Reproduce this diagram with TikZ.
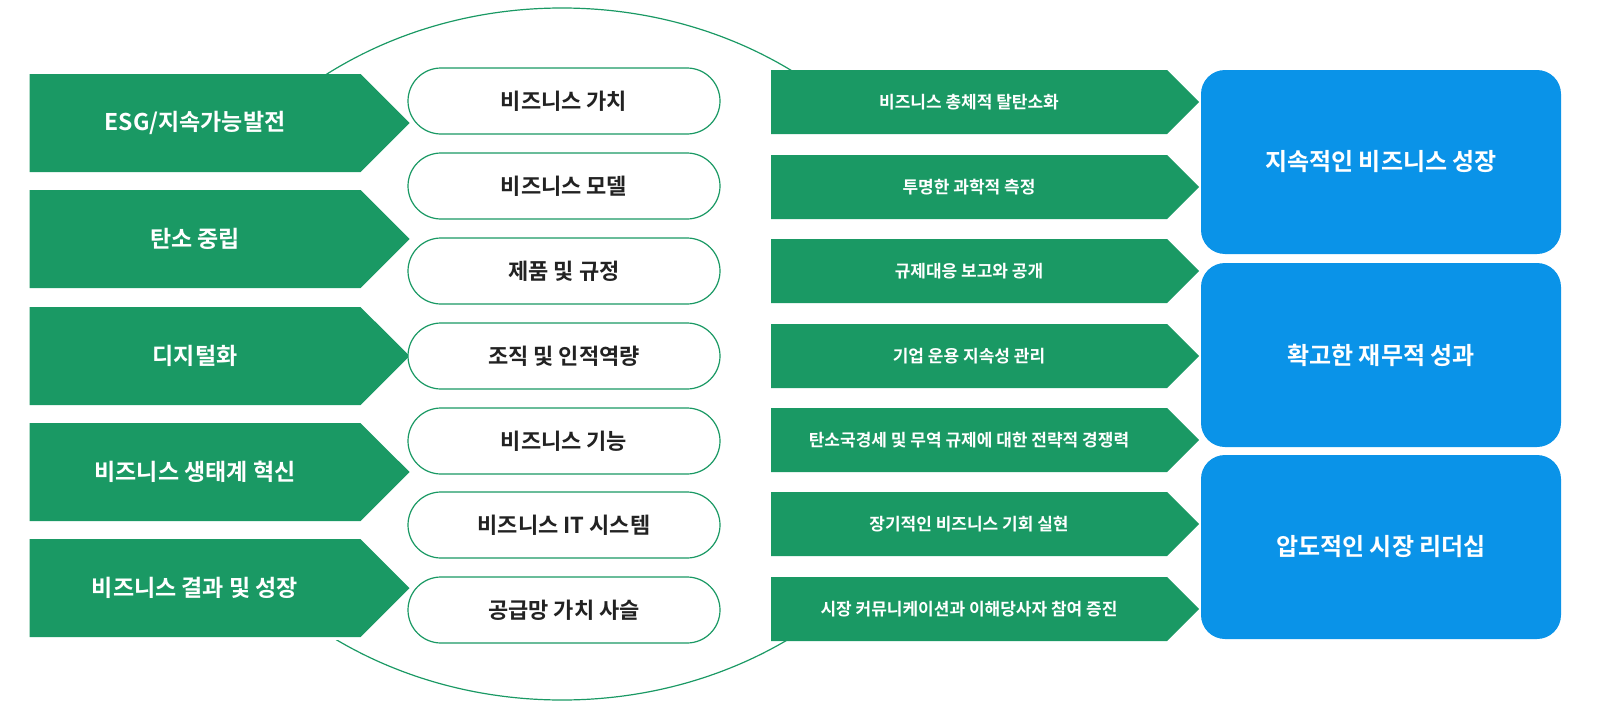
\documentclass[tikz,border=0pt]{standalone}
\usepackage{fontspec}
\setmainfont{Noto Sans CJK KR}[BoldFont={Noto Sans CJK KR Bold}]
\usetikzlibrary{shapes.symbols}
\definecolor{esggreen}{HTML}{1A9964}
\definecolor{esgblue}{HTML}{0A93E8}
\definecolor{pilltext}{HTML}{222222}
\tikzset{
leftarrow/.style={signal, signal to=east, signal pointer angle=90, fill=esggreen, text=white,
  minimum width=190pt, minimum height=49pt, inner sep=0pt, font=\bfseries\fontsize{11.5}{13}\selectfont},
rightarrow/.style={signal, signal to=east, signal pointer angle=90, fill=esggreen, text=white,
  minimum width=214pt, minimum height=32pt, inner sep=0pt, font=\bfseries\fontsize{8.5}{10}\selectfont},
pill/.style={draw=esggreen, fill=white, line width=0.6pt, rounded corners=16.5pt, text=pilltext,
  minimum width=156pt, minimum height=33pt, font=\bfseries\fontsize{11}{13}\selectfont},
goal/.style={fill=esgblue, text=white, rounded corners=12pt, minimum width=180pt,
  minimum height=92pt, font=\bfseries\fontsize{12}{14}\selectfont}
}
\begin{document}
\begin{tikzpicture}[x=0.5pt,y=-0.5pt]
% outline arcs above and below the middle column
\begin{scope}
\clip (0,0) rectangle (1613,75) (0,640) rectangle (1613,728);
\draw[esggreen, line width=0.6pt] (562,354) ellipse [x radius=400, y radius=346];
\end{scope}
% left column
\node[leftarrow] (l1) at (195,123) {ESG/지속가능발전};
\node[leftarrow] (l2) at (195,239) {탄소 중립};
\node[leftarrow] (l3) at (195,356) {디지털화};
\node[leftarrow] (l4) at (195,472) {비즈니스 생태계 혁신};
\node[leftarrow] (l5) at (195,588) {비즈니스 결과 및 성장};
% middle column
\node[pill] (p1) at (564,101) {비즈니스 가치};
\node[pill] (p2) at (564,186) {비즈니스 모델};
\node[pill] (p3) at (564,271) {제품 및 규정};
\node[pill] (p4) at (564,356) {조직 및 인적역량};
\node[pill] (p5) at (564,441) {비즈니스 기능};
\node[pill] (p6) at (564,525) {비즈니스 IT 시스템};
\node[pill] (p7) at (564,610) {공급망 가치 사슬};
% right column
\node[rightarrow] (r1) at (969,102) {비즈니스 총체적 탈탄소화};
\node[rightarrow] (r2) at (969,187) {투명한 과학적 측정};
\node[rightarrow] (r3) at (969,271) {규제대응 보고와 공개};
\node[rightarrow] (r4) at (969,356) {기업 운용 지속성 관리};
\node[rightarrow] (r5) at (969,440) {탄소국경세 및 무역 규제에 대한 전략적 경쟁력};
\node[rightarrow] (r6) at (969,524) {장기적인 비즈니스 기회 실현};
\node[rightarrow] (r7) at (969,609) {시장 커뮤니케이션과 이해당사자 참여 증진};
% goals
\node[goal] (g1) at (1381,162) {지속적인 비즈니스 성장};
\node[goal] (g2) at (1381,355) {확고한 재무적 성과};
\node[goal] (g3) at (1381,547) {압도적인 시장 리더십};
\pgfresetboundingbox
\path[use as bounding box] (0,0) rectangle (1613,728);
\end{tikzpicture}
\end{document}
